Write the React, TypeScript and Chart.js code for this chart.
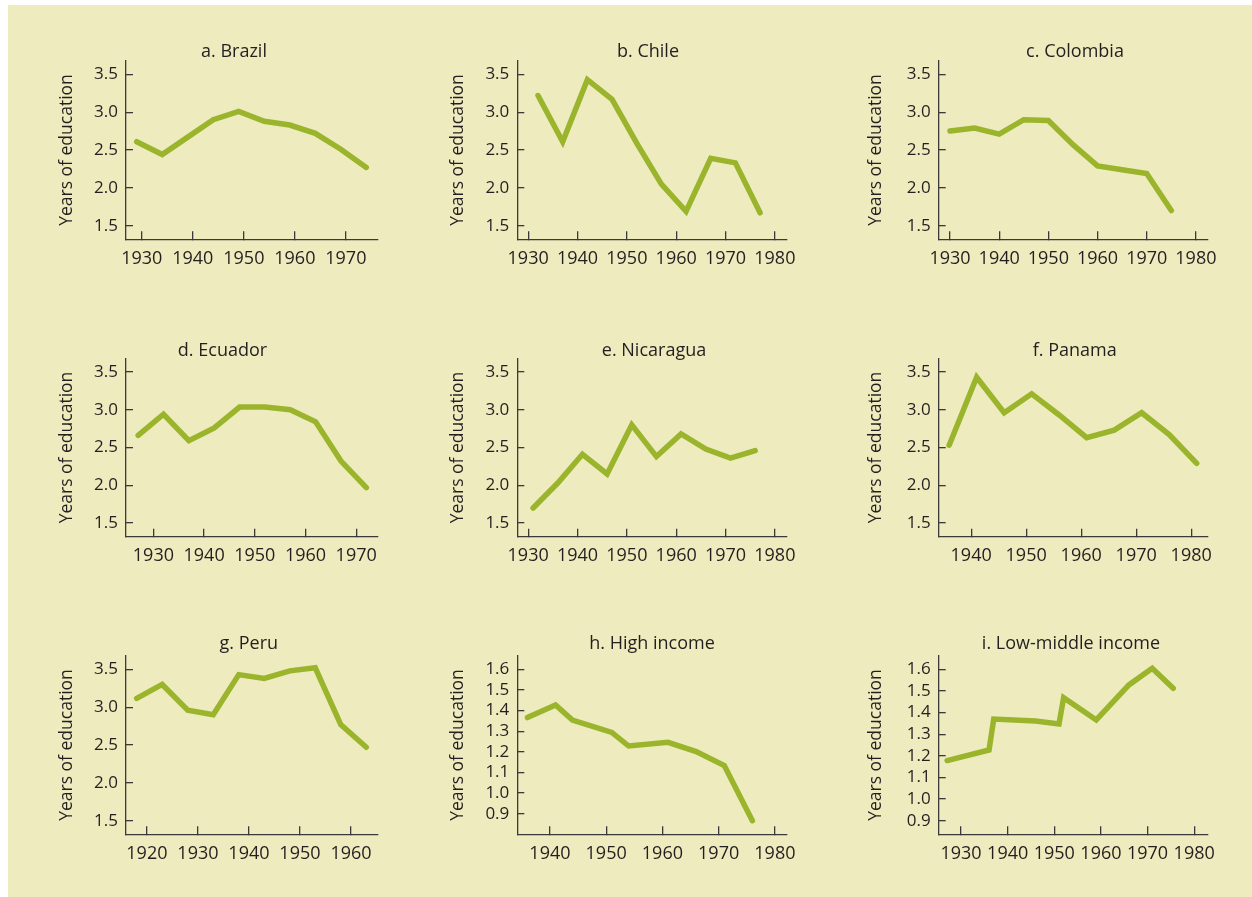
import React, { useEffect, useRef } from "react";
import { Chart, registerables } from "chart.js";

Chart.register(...registerables);

// ---------- data ----------
const brazilYears = [1929, 1934, 1939, 1944, 1949, 1954, 1959, 1964, 1969, 1974];
const brazilValues = [2.61, 2.44, 2.67, 2.9, 3.01, 2.88, 2.83, 2.72, 2.51, 2.27];

const chileYears = [1932, 1937, 1942, 1947, 1952, 1957, 1962, 1967, 1972, 1977];
const chileValues = [3.22, 2.61, 3.43, 3.17, 2.59, 2.05, 1.69, 2.39, 2.33, 1.67];

const colombiaYears = [1930, 1935, 1940, 1945, 1950, 1955, 1960, 1965, 1970, 1975];
const colombiaValues = [2.75, 2.79, 2.71, 2.9, 2.89, 2.57, 2.29, 2.24, 2.19, 1.7];

const ecuadorYears = [1927, 1932, 1937, 1942, 1947, 1952, 1957, 1962, 1967, 1972];
const ecuadorValues = [2.66, 2.94, 2.59, 2.76, 3.035, 3.035, 3.0, 2.84, 2.32, 1.97];

const nicaraguaYears = [1931, 1936, 1941, 1946, 1951, 1956, 1961, 1966, 1971, 1976];
const nicaraguaValues = [1.7, 2.03, 2.41, 2.15, 2.8, 2.38, 2.68, 2.48, 2.36, 2.46];

const panamaYears = [1936, 1941, 1946, 1951, 1956, 1961, 1966, 1971, 1976, 1981];
const panamaValues = [2.53, 3.43, 2.96, 3.21, 2.93, 2.63, 2.73, 2.96, 2.67, 2.29];

const peruYears = [1918, 1923, 1928, 1933, 1938, 1943, 1948, 1953, 1958, 1963];
const peruValues = [3.115, 3.3, 2.96, 2.9, 3.43, 3.38, 3.48, 3.52, 2.77, 2.47];

const highIncomeYears = [1936, 1941, 1944, 1951, 1954, 1961, 1966, 1971, 1976];
const highIncomeValues = [1.366, 1.427, 1.354, 1.294, 1.228, 1.246, 1.201, 1.133, 0.866];

const lowMiddleYears = [1927, 1936, 1937, 1946, 1951, 1952, 1959, 1966, 1971, 1975.5];
const lowMiddleValues = [1.178, 1.227, 1.37, 1.361, 1.347, 1.469, 1.366, 1.528, 1.605, 1.512];

const panelTitles = [
  "a. Brazil",
  "b. Chile",
  "c. Colombia",
  "d. Ecuador",
  "e. Nicaragua",
  "f. Panama",
  "g. Peru",
  "h. High income",
  "i. Low-middle income",
];

const yAxisTitle = "Years of education";

const countryYTicks = [1.5, 2.0, 2.5, 3.0, 3.5];
const incomeYTicks = [0.9, 1.0, 1.1, 1.2, 1.3, 1.4, 1.5, 1.6];
const xTicks1920to1960 = [1920, 1930, 1940, 1950, 1960];
const xTicks1930to1970 = [1930, 1940, 1950, 1960, 1970];
const xTicks1930to1980 = [1930, 1940, 1950, 1960, 1970, 1980];
const xTicks1940to1980 = [1940, 1950, 1960, 1970, 1980];

// axis ranges [min, max]
const xRanges = [
  [1926.9, 1976.3],
  [1927.8, 1982.4],
  [1927.7, 1982.4],
  [1924.6, 1974.3],
  [1927.8, 1982.4],
  [1934.1, 1983.0],
  [1915.9, 1965.3],
  [1934.2, 1982.1],
  [1925.2, 1982.9],
];
const yRanges = [
  [1.32, 3.68],
  [1.32, 3.68],
  [1.32, 3.68],
  [1.32, 3.68],
  [1.32, 3.68],
  [1.32, 3.68],
  [1.32, 3.68],
  [0.8, 1.666],
  [0.837, 1.663],
];

// ---------- styles / layout ----------
const BG = "#EEEBBE";
const GREEN = "#9AB42C";
const AXIS = "#3A3A3A";
const TEXT = "#231F20";
const FONT = '"Open Sans", "Noto Sans", sans-serif';
const TITLE_SIZE = 18;
const XTICK_SIZE = 18;
const YTICK_SIZE = 17;
const YTITLE_SIZE = 17.5;

const COLS = [
  { left: 30, right: 405, plotLeft: 126, plotRight: 378, yTitleX: 66.7 },
  { left: 420, right: 825, plotLeft: 517.3, plotRight: 786.7, yTitleX: 458.3 },
  { left: 840, right: 1245, plotLeft: 938.7, plotRight: 1207.7, yTitleX: 876 },
];
const ROWS = [
  { top: 18, bottom: 295, plotTop: 60.7, plotBottom: 239.3, titleBase: 56.5 },
  { top: 312, bottom: 590, plotTop: 358.3, plotBottom: 536.7, titleBase: 355.7 },
  { top: 605, bottom: 890, plotTop: 655.7, plotBottom: 834.3, titleBase: 648.5 },
];
const TITLE_X = [234, 648, 1075, 222.5, 654, 1074.7, 248.8, 652, 1071];

type Spec = {
  title: string;
  years: number[];
  values: number[];
  xTicks: number[];
  yTicks: number[];
  xRange: number[];
  yRange: number[];
};

const specs: Spec[] = [
  { title: panelTitles[0], years: brazilYears, values: brazilValues, xTicks: xTicks1930to1970, yTicks: countryYTicks, xRange: xRanges[0], yRange: yRanges[0] },
  { title: panelTitles[1], years: chileYears, values: chileValues, xTicks: xTicks1930to1980, yTicks: countryYTicks, xRange: xRanges[1], yRange: yRanges[1] },
  { title: panelTitles[2], years: colombiaYears, values: colombiaValues, xTicks: xTicks1930to1980, yTicks: countryYTicks, xRange: xRanges[2], yRange: yRanges[2] },
  { title: panelTitles[3], years: ecuadorYears, values: ecuadorValues, xTicks: xTicks1930to1970, yTicks: countryYTicks, xRange: xRanges[3], yRange: yRanges[3] },
  { title: panelTitles[4], years: nicaraguaYears, values: nicaraguaValues, xTicks: xTicks1930to1980, yTicks: countryYTicks, xRange: xRanges[4], yRange: yRanges[4] },
  { title: panelTitles[5], years: panamaYears, values: panamaValues, xTicks: xTicks1940to1980, yTicks: countryYTicks, xRange: xRanges[5], yRange: yRanges[5] },
  { title: panelTitles[6], years: peruYears, values: peruValues, xTicks: xTicks1920to1960, yTicks: countryYTicks, xRange: xRanges[6], yRange: yRanges[6] },
  { title: panelTitles[7], years: highIncomeYears, values: highIncomeValues, xTicks: xTicks1940to1980, yTicks: incomeYTicks, xRange: xRanges[7], yRange: yRanges[7] },
  { title: panelTitles[8], years: lowMiddleYears, values: lowMiddleValues, xTicks: xTicks1930to1980, yTicks: incomeYTicks, xRange: xRanges[8], yRange: yRanges[8] },
];

const panelTitlePlugin = {
  id: "panelTitle",
  afterDraw(chart: any, _args: any, opts: any) {
    const ctx = chart.ctx;
    ctx.save();
    ctx.font = `${TITLE_SIZE}px ${FONT}`;
    ctx.fillStyle = TEXT;
    ctx.textAlign = "center";
    ctx.textBaseline = "alphabetic";
    ctx.fillText(opts.text, opts.x, opts.y);
    ctx.restore();
  },
};

function Panel({ spec, index }: { spec: Spec; index: number }) {
  const ref = useRef<HTMLCanvasElement>(null);
  const col = COLS[index % 3];
  const row = ROWS[Math.floor(index / 3)];
  const w = col.right - col.left;
  const h = row.bottom - row.top;

  useEffect(() => {
    if (!ref.current) return;
    const yTitleLH = YTITLE_SIZE * 1.2;
    const xTickLH = XTICK_SIZE * 1.2;
    const chart = new Chart(ref.current, {
      type: "line",
      data: {
        datasets: [
          {
            data: spec.years.map((x, i) => ({ x, y: spec.values[i] })),
            borderColor: GREEN,
            backgroundColor: GREEN,
            borderWidth: 5.5,
            pointRadius: 0,
            tension: 0,
            fill: false,
            borderCapStyle: "round",
            borderJoinStyle: "miter",
          },
        ],
      },
      options: {
        responsive: false,
        animation: false,
        devicePixelRatio: 1,
        events: [],
        layout: {
          autoPadding: false,
          padding: {
            left: 0,
            bottom: 0,
            top: row.plotTop - row.top,
            right: col.right - col.plotRight,
          },
        },
        plugins: {
          legend: { display: false },
          tooltip: { enabled: false },
          title: { display: false },
          panelTitle: {
            text: spec.title,
            x: TITLE_X[index] - col.left,
            y: row.titleBase - row.top,
          },
        } as any,
        scales: {
          x: {
            type: "linear",
            position: "bottom",
            min: spec.xRange[0],
            max: spec.xRange[1],
            bounds: "data",
            afterBuildTicks: (s: any) => {
              s.ticks = spec.xTicks.map((v) => ({ value: v }));
            },
            afterFit: (s: any) => {
              s.height = row.bottom - row.plotBottom;
            },
            ticks: {
              autoSkip: false,
              maxRotation: 0,
              minRotation: 0,
              padding: 8 + 19.5 - xTickLH / 2,
              color: TEXT,
              font: { family: FONT, size: XTICK_SIZE },
              callback: (v: any) => String(v),
            },
            grid: {
              drawOnChartArea: false,
              drawTicks: true,
              tickLength: -8,
              color: AXIS,
              lineWidth: 1.3,
            },
            border: { display: true, color: AXIS, width: 1.3 },
          },
          y: {
            type: "linear",
            position: "left",
            min: spec.yRange[0],
            max: spec.yRange[1],
            bounds: "data",
            afterBuildTicks: (s: any) => {
              s.ticks = spec.yTicks.map((v) => ({ value: v }));
            },
            afterFit: (s: any) => {
              s.width = col.plotLeft - col.left;
            },
            ticks: {
              autoSkip: false,
              padding: 15,
              color: TEXT,
              font: { family: FONT, size: YTICK_SIZE },
              callback: (v: any) => Number(v).toFixed(1),
            },
            grid: {
              drawOnChartArea: false,
              drawTicks: true,
              tickLength: -7,
              color: AXIS,
              lineWidth: 1.3,
            },
            border: { display: true, color: AXIS, width: 1.3 },
            title: {
              display: true,
              text: yAxisTitle,
              color: TEXT,
              font: { family: FONT, size: YTITLE_SIZE },
              padding: { top: col.yTitleX - col.left - yTitleLH / 2, bottom: 0 },
            },
          },
        },
      } as any,
      plugins: [panelTitlePlugin as any],
    });
    return () => chart.destroy();
  }, []);

  return (
    <canvas
      ref={ref}
      width={w}
      height={h}
      style={{
        position: "absolute",
        left: col.left,
        top: row.top,
        width: w,
        height: h,
      }}
    />
  );
}

export default function App() {
  return (
    <div style={{ position: "absolute", left: 0, top: 0, width: 1252, height: 897, background: "#FFFFFF" }}>
      <div style={{ position: "absolute", left: 8, top: 5, width: 1244, height: 892, background: BG }} />
      {specs.map((s, i) => (
        <Panel key={i} spec={s} index={i} />
      ))}
    </div>
  );
}
